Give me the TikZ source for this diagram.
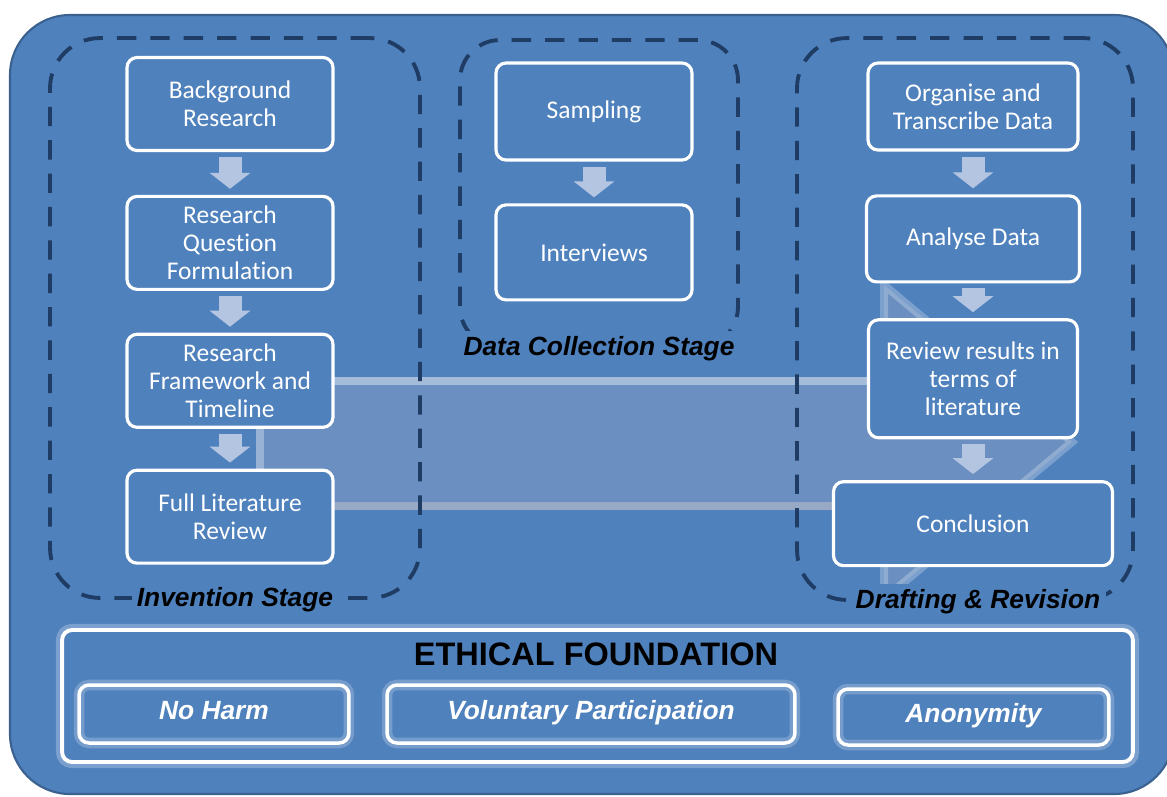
\documentclass[tikz,border=0pt]{standalone}
\usepackage{fontspec}
\setmainfont[Ligatures=NoCommon]{Carlito}
\newfontfamily\arialfont{Liberation Sans}
\usepackage{tikz}
\usetikzlibrary{positioning}
\usetikzlibrary{arrows.meta}

\definecolor{panelblue}{HTML}{4F81BD}
\definecolor{panelrim}{HTML}{3A618F}
\definecolor{framenavy}{HTML}{1F3C64}
\definecolor{flowgrey}{HTML}{B3C5E1}
\definecolor{bandblue}{HTML}{6A8FC0}
\definecolor{bandtop}{HTML}{A4BBDA}
\definecolor{bandbottom}{HTML}{97A9C4}

\tikzstyle{panel}=[draw=panelrim, line width=1.2pt, fill=panelblue, rounded corners=1.2cm]
\tikzstyle{band edge}=[line width=0.16cm, line cap=butt]
\tikzstyle{step box}=[draw=white, line width=1.8pt, rounded corners=0.2cm, fill=panelblue, text=white, align=center, font=\fontsize{14.5}{16}\selectfont, inner sep=2pt]
\tikzstyle{step arrow}=[flowgrey, line width=0.46cm, -{Triangle[width=0.8cm,length=0.32cm]}, shorten <=0.1cm, shorten >=0.12cm]
\tikzstyle{stage frame}=[draw=framenavy, line width=2.2pt, dash pattern=on 11pt off 8pt, rounded corners=1cm]
\tikzstyle{stage label}=[fill=panelblue, font=\arialfont\bfseries\itshape\fontsize{15}{18}\selectfont, inner sep=3pt]
\tikzstyle{found box}=[draw=white, line width=2.2pt, rounded corners=0.2cm, fill=panelblue, preaction={draw=white, line width=7pt, opacity=0.25}]
\tikzstyle{value box}=[draw=white, line width=2pt, rounded corners=0.2cm, text=white, font=\arialfont\bfseries\itshape\fontsize{15}{18}\selectfont, text depth=0.16cm, preaction={draw=white, line width=6pt, opacity=0.22}]

\newcommand{\stepnode}[3][]{
  \node [step box, #1] (#2) {#3}
}
\newcommand{\valuenode}[3][]{
  \node [value box, #1] (#2) {#3}
}

\begin{document}
\begin{tikzpicture}[x=0.02cm, y=-0.02cm]
    \useasboundingbox (0,0) rectangle (1167,796);
    \clip (0,0) rectangle (1167,796);
    \draw[panel] (10,15) rectangle (1174,794);

    % big arrow in the back
    \fill[bandblue] (258,381) -- (884,381) -- (884,285) -- (1072,442) -- (884,599) -- (884,506) -- (258,506) -- cycle;
    \draw[band edge, bandtop] (258,381) -- (884,381);
    \draw[band edge, bandbottom] (258,506) -- (884,506);
    \draw[band edge, bandtop!80!bandblue] (260,381) -- (260,506);
    \draw[band edge, white, opacity=0.25] (884,381) -- (884,285) -- (1072,442) -- (884,599) -- (884,506);

    % dashed stage frames
    \node[stage frame, minimum width=7.4cm, minimum height=11.2cm] (invframe) at (235,318) {};
    \node[stage frame, minimum width=5.56cm, minimum height=6.14cm, rounded corners=0.8cm] (colframe) at (599,193.5) {};
    \node[stage frame, minimum width=6.72cm, minimum height=11.24cm] (draftframe) at (965,319) {};

    \node[stage label] (invlabel) at (invframe.south) {Invention Stage};
    \node[stage label] (collabel) at (colframe.south) {Data Collection Stage};
    \node[stage label, xshift=0.26cm] (draftlabel) at (draftframe.south) {Drafting \& Revision};

    % invention stage
        \stepnode[minimum width=4.12cm, minimum height=1.86cm, at={(230,104)}]{bgr}{Background\\Research};
        \stepnode[minimum width=4.12cm, minimum height=1.86cm, below=0.855cm of bgr]{rqf}{Research\\Question\\Formulation};
        \stepnode[minimum width=4.12cm, minimum height=1.86cm, below=0.835cm of rqf]{rft}{Research\\Framework and\\Timeline};
        \stepnode[minimum width=4.12cm, minimum height=1.86cm, below=0.795cm of rft]{flr}{Full Literature\\Review};

    % data collection stage
        \stepnode[minimum width=3.92cm, minimum height=1.94cm, at={(594,111.5)}]{smp}{Sampling};
        \stepnode[minimum width=3.92cm, minimum height=1.9cm, below=0.835cm of smp]{itv}{Interviews};

    % drafting and revision
        \stepnode[minimum width=4.2cm, minimum height=1.74cm, at={(973,106.5)}]{org}{Organise and\\Transcribe Data};
        \stepnode[minimum width=4.26cm, minimum height=1.72cm, below=0.855cm of org]{anl}{Analyse Data};
        \stepnode[minimum width=4.18cm, minimum height=2.36cm, below=0.695cm of anl]{rev}{Review results in\\terms of\\literature};
        \stepnode[minimum width=5.58cm, minimum height=1.68cm, below=0.815cm of rev]{con}{Conclusion};

            \draw[step arrow] (bgr) -- (rqf);
            \draw[step arrow] (rqf) -- (rft);
            \draw[step arrow] (rft) -- (flr);

            \draw[step arrow] (smp) -- (itv);

            \draw[step arrow] (org) -- (anl);
            \draw[step arrow] (anl) -- (rev);
            \draw[step arrow] (rev.south) -- (rev.south |- con.north);

    % ethics along the bottom
    \node[found box, minimum width=21.42cm, minimum height=2.64cm] (found) at (597.5,696) {};
    \node[font=\arialfont\bfseries\fontsize{18.5}{20}\selectfont, at={(596,654)}] (foundtitle) {ETHICAL FOUNDATION};
        \valuenode[minimum width=5.4cm, minimum height=1.16cm, at={(214,714)}]{noharm}{No Harm};
        \valuenode[minimum width=8.16cm, minimum height=1.16cm, at={(591,714)}]{volpart}{Voluntary Participation};
        \valuenode[minimum width=5.42cm, minimum height=1.12cm, at={(973.5,717)}]{anon}{Anonymity};
\end{tikzpicture}
\end{document}
